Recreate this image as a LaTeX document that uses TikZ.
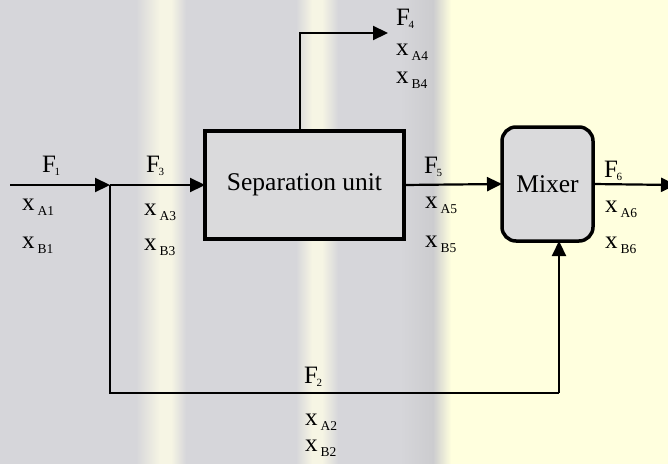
\documentclass[tikz,border=0pt]{standalone}
\usepackage{fontspec}
\setmainfont{Liberation Serif}
\usetikzlibrary{arrows.meta,calc}
\definecolor{bggray}{RGB}{214,214,218}
\definecolor{bgdark}{RGB}{204,204,207}
\definecolor{bgcream}{RGB}{246,245,228}
\definecolor{bgyellow}{RGB}{255,255,222}
\definecolor{boxfill}{RGB}{218,218,220}
\newcommand{\xsub}[1]{x\kern3pt\raisebox{-5pt}{\fontsize{13.5}{13.5}\selectfont #1}}
\newcommand{\Fsub}[1]{F\kern-1.5pt\raisebox{-3pt}{\fontsize{11}{11}\selectfont #1}}
\begin{document}
\begin{tikzpicture}[x=1pt,y=-1pt,
  lbl/.style={font=\fontsize{25}{25}\selectfont, inner sep=0pt, anchor=base west},
  unitbox/.style={draw=black, line width=3.5pt, fill=boxfill, inner sep=0pt, outer sep=0pt,
     font=\fontsize{25.5}{25.5}\selectfont},
  flow/.style={line width=2.2pt, -{Triangle[length=15pt,width=14pt]}},
  pipe/.style={line width=2.2pt}]
\useasboundingbox (0,0) rectangle (668,463);
\clip (0,0) rectangle (668,463);
% background
\fill[bggray] (-10,-10) rectangle (680,475);
\shade[left color=bggray, right color=bgcream] (136,-10) rectangle (160,475);
\fill[bgcream] (160,-10) rectangle (171,475);
\shade[left color=bgcream, right color=bggray] (171,-10) rectangle (186,475);
\shade[left color=bggray, right color=bgcream] (296,-10) rectangle (312,475);
\fill[bgcream] (312,-10) rectangle (322,475);
\shade[left color=bgcream, right color=bggray] (322,-10) rectangle (338,475);
\shade[left color=bggray, right color=bgdark] (400,-10) rectangle (433,475);
\shade[left color=bgdark, right color=bgyellow] (433,-10) rectangle (451,475);
\fill[bgyellow] (451,-10) rectangle (680,475);
% units
\node[unitbox, minimum width=199pt, minimum height=108pt] (sep) at (304.5,185) {Separation unit};
\node[unitbox, rounded corners=14pt, minimum width=91pt, minimum height=114pt] (mix) at (547.5,184) {Mixer};
% coordinates
\coordinate (in) at (10,185);
\coordinate (junc) at (110,185);
\coordinate (bl) at (110,393);
\coordinate (br) at (559,393);
\coordinate (mixb) at (559,241);
\coordinate (topc) at (300,33);
\coordinate (f4end) at (388,33);
\coordinate (out) at (676,185);
% connectors
\draw[flow] (in) -- (junc);
\draw[flow] (junc) -- (sep.west);
\draw[pipe] (junc) -- (bl) -- (br);
\draw[flow] (br) -- (mixb);
\draw[flow] (sep.north -| topc) -- (topc) -- (f4end);
\draw[flow] (sep.east) -- (mix.west);
\draw[flow] (mix.east) -- (out);
% labels
\node[lbl] (F1) at (42,172) {\Fsub{1}};
\node[lbl] (xA1) at (22,210) {\xsub{A1}};
\node[lbl] (xB1) at (22,248) {\xsub{B1}};
\node[lbl] (F3) at (146,172) {\Fsub{3}};
\node[lbl] (xA3) at (144,215) {\xsub{A3}};
\node[lbl] (xB3) at (144,250) {\xsub{B3}};
\node[lbl] (F4) at (396,25) {\Fsub{4}};
\node[lbl] (xA4) at (396,55) {\xsub{A4}};
\node[lbl] (xB4) at (396,83) {\xsub{B4}};
\node[lbl] (F5) at (424,173) {\Fsub{5}};
\node[lbl] (xA5) at (425,208) {\xsub{A5}};
\node[lbl] (xB5) at (425,247) {\xsub{B5}};
\node[lbl] (F6) at (604,177) {\Fsub{6}};
\node[lbl] (xA6) at (605,212) {\xsub{A6}};
\node[lbl] (xB6) at (605,248) {\xsub{B6}};
\node[lbl] (F2) at (304,383) {\Fsub{2}};
\node[lbl] (xA2) at (305,425) {\xsub{A2}};
\node[lbl] (xB2) at (305,451) {\xsub{B2}};
\end{tikzpicture}
\end{document}
